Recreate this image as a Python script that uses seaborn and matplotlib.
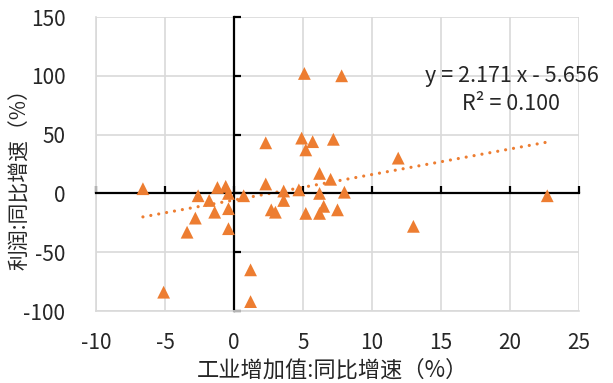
import matplotlib
matplotlib.use("Agg")
import matplotlib.pyplot as plt
import seaborn as sns
import numpy as np
import pandas as pd

# Industrial value-added growth (x) vs. profit growth (y), both in %
industry_growth = [-6.6, -5.1, -3.4, -2.8, -2.6, -1.8, -1.4, -1.2, -0.6, -0.4,
                   -0.4, -0.4, 0.7, 1.2, 1.2, 2.3, 2.3, 2.7, 3.0, 3.6,
                   3.6, 4.7, 5.1, 4.9, 5.2, 5.7, 5.2, 6.2, 6.2, 6.2,
                   6.5, 7.0, 7.2, 7.5, 7.8, 8.0, 11.9, 13.0, 22.7]
profit_growth = [4, -84, -33, -21, -2, -6, -16, 5, 6, 0,
                 -13, -30, -2, -65, -92, 43, 8, -14, -16, 2,
                 -6, 3, 102, 47, 37, 44, -17, 17, 0, -17,
                 -11, 12, 46, -14, 100, 1, 30, -28, -2]

# Linear trend as reported on the chart
slope = 2.171
intercept = -5.656
r_squared = 0.100

x_ticks = [-10, -5, 0, 5, 10, 15, 20, 25]
y_ticks = [-100, -50, 0, 50, 100, 150]

x_label = "工业增加值:同比增速（%）"
y_label = "利润:同比增速（%）"

orange = "#ED7D31"
grid_grey = "#d9d9d9"
text_col = "#262626"

sns.set_theme(style="white")
plt.rcParams["font.family"] = ["Noto Sans CJK SC", "DejaVu Sans"]
plt.rcParams["axes.unicode_minus"] = False

df = pd.DataFrame({"x": industry_growth, "y": profit_growth})

fig = plt.figure(figsize=(6.13, 3.83), dpi=100)
ax = fig.add_axes([96 / 613, 1 - 311 / 383, (578 - 95) / 613, (311 - 17) / 383])

ax.set_xlim(x_ticks[0], x_ticks[-1])
ax.set_ylim(y_ticks[0], y_ticks[-1])
ax.set_xticks(x_ticks)
ax.set_yticks(y_ticks)
ax.grid(True, color=grid_grey, linewidth=1.2)
ax.set_axisbelow(True)

# Trend line over the range of the data
tx = np.array([min(industry_growth), max(industry_growth)])
ax.plot(tx, slope * tx + intercept, color=orange, linewidth=2.3,
        linestyle=(0, (0.01, 2.5)), dash_capstyle="round", zorder=2)

sns.scatterplot(data=df, x="x", y="y", marker="^", s=85, color=orange,
                edgecolor="none", linewidth=0, ax=ax, zorder=3)

# Outer frame in grid colour, zero axes in black
for side in ("left", "bottom"):
    ax.spines[side].set_color(grid_grey)
    ax.spines[side].set_linewidth(1.2)
ax.spines["top"].set_position(("data", 0))
ax.spines["right"].set_position(("data", 0))
for side in ("top", "right"):
    ax.spines[side].set_color("black")
    ax.spines[side].set_linewidth(1.6)
    ax.spines[side].set_zorder(2.5)

ax.tick_params(axis="x", bottom=False, top=True, labelbottom=True, labeltop=False,
               direction="out", length=5, width=1.6, color="black",
               labelsize=15, pad=10)
ax.tick_params(axis="y", left=False, right=True, labelleft=True, labelright=False,
               direction="out", length=5, width=1.6, color="black",
               labelsize=15, pad=17)
for lbl in ax.get_xticklabels() + ax.get_yticklabels():
    lbl.set_color(text_col)

ax.set_xlabel(x_label, fontsize=16, color=text_col)
ax.set_ylabel(y_label, fontsize=15, color=text_col)
ax.xaxis.set_label_coords(0.49, -0.162)
ax.yaxis.set_label_coords(-0.135, 0.466)

ax.text(0.86, 0.800, f"y = {slope:.3f} x - {abs(intercept):.3f}",
        transform=ax.transAxes, ha="center", va="center", fontsize=15.5, color=text_col)
ax.text(0.86, 0.704, f"R² = {r_squared:.3f}",
        transform=ax.transAxes, ha="center", va="center", fontsize=15.5, color=text_col)

fig.savefig("out.png", dpi=100)
